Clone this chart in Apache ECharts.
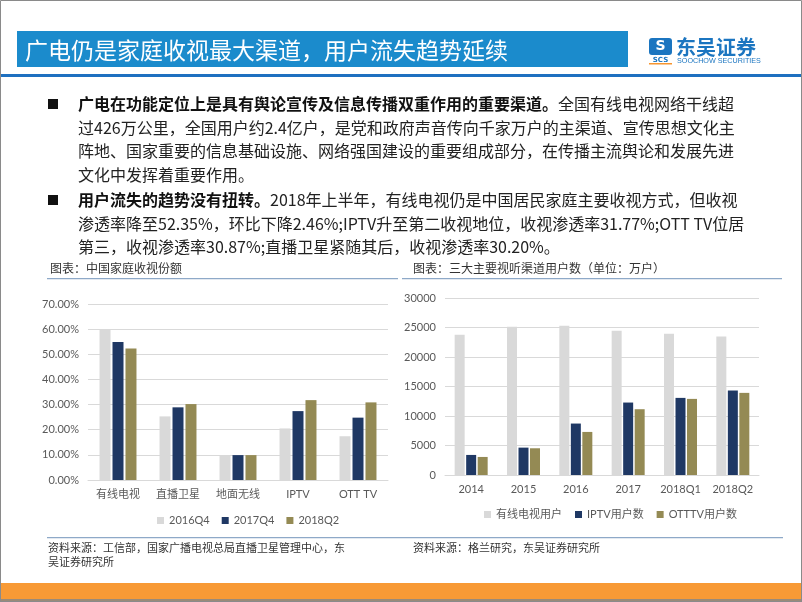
<!DOCTYPE html>
<html><head><meta charset="utf-8">
<script src="https://cdn.jsdelivr.net/npm/echarts@6/dist/echarts.min.js"></script>
<style>html,body{margin:0;padding:0;background:#fff}#c{width:802px;height:602px}</style>
</head><body><div id="c"></div>
<script>
// ---- data: left chart (China household viewing share, %) ----
const shareCategories = ['有线电视', '直播卫星', '地面无线', 'IPTV', 'OTT TV'];
const shareSeriesNames = ['2016Q4', '2017Q4', '2018Q2'];
const share2016Q4 = [59.8, 25.3, 9.9, 20.5, 17.4];
const share2017Q4 = [54.9, 28.9, 9.9, 27.4, 24.8];
const share2018Q2 = [52.35, 30.2, 9.9, 31.77, 30.87];
const shareMax = 70, shareStep = 10;

// ---- data: right chart (users, 万户) ----
const userCategories = ['2014', '2015', '2016', '2017', '2018Q1', '2018Q2'];
const userSeriesNames = ['有线电视用户', 'IPTV用户数', 'OTTTV用户数'];
const cableUsers = [23770, 25130, 25300, 24450, 23940, 23490];
const iptvUsers = [3400, 4640, 8720, 12280, 13070, 14320];
const ottUsers = [3060, 4530, 7300, 11150, 12900, 13920];
const userMax = 30000, userStep = 5000;

// ---- texts ----
const slideTitle = '广电仍是家庭收视最大渠道，用户流失趋势延续';
const para1 = [
  ['广电在功能定位上是具有舆论宣传及信息传播双重作用的重要渠道。', '全国有线电视网络干线超'],
  ['', '过426万公里，全国用户约2.4亿户，是党和政府声音传向千家万户的主渠道、宣传思想文化主'],
  ['', '阵地、国家重要的信息基础设施、网络强国建设的重要组成部分，在传播主流舆论和发展先进'],
  ['', '文化中发挥着重要作用。']
];
const para2 = [
  ['用户流失的趋势没有扭转。', '2018年上半年，有线电视仍是中国居民家庭主要收视方式，但收视'],
  ['', '渗透率降至52.35%，环比下降2.46%;IPTV升至第二收视地位，收视渗透率31.77%;OTT TV位居'],
  ['', '第三，收视渗透率30.87%;直播卫星紧随其后，收视渗透率30.20%。']
];
const leftChartTitle = '图表：中国家庭收视份额';
const rightChartTitle = '图表：三大主要视听渠道用户数（单位：万户）';
const leftSource = ['资料来源：工信部，国家广播电视总局直播卫星管理中心，东', '吴证券研究所'];
const rightSource = '资料来源：格兰研究，东吴证券研究所';

const C_GRAY = '#d9d9d9', C_NAVY = '#1f3864', C_GOLD = '#948a54';
const CJK = '"Noto Sans CJK SC", sans-serif';
const LAT = 'Lato, "Noto Sans CJK SC", sans-serif';

const chart = echarts.init(document.getElementById('c'), null, {renderer: 'canvas'});

function textLine(x, y, bold, normal, size) {
  return {
    type: 'text', x: x, y: y,
    style: {
      text: (bold ? '{b|' + bold + '}' : '') + '{n|' + normal + '}',
      verticalAlign: 'middle',
      rich: {
        b: {fontFamily: CJK, fontSize: size, fontWeight: 'bold', fill: '#111'},
        n: {fontFamily: CJK, fontSize: size, fill: '#222'}
      }
    }
  };
}

const graphics = [];
// slide border
graphics.push({type: 'rect', shape: {x: 0.5, y: 0.5, width: 801, height: 601}, style: {fill: 'none', stroke: '#8a8a8a', lineWidth: 1}, z: 100});
// title bar
graphics.push({type: 'rect', shape: {x: 17, y: 31, width: 611, height: 36}, style: {fill: '#1b8bcc'}});
graphics.push({type: 'text', x: 25, y: 50, style: {text: slideTitle, fill: '#fff', fontFamily: CJK, fontSize: 23, verticalAlign: 'middle'}});
// blue rule
graphics.push({type: 'rect', shape: {x: 0, y: 74, width: 802, height: 3}, style: {fill: '#1e70c0'}});
// logo
graphics.push({type: 'rect', shape: {x: 649, y: 38, width: 23, height: 17, r: 3}, style: {fill: '#1b75c0'}});
graphics.push({type: 'text', x: 660.5, y: 46.5, style: {text: 'S', fill: '#fff', fontFamily: 'DejaVu Sans', fontWeight: 'bold', fontSize: 14, align: 'center', verticalAlign: 'middle'}});
graphics.push({type: 'text', x: 660.5, y: 60, style: {text: 'SCS', fill: '#1b75c0', fontFamily: 'DejaVu Sans', fontWeight: 'bold', fontSize: 7, align: 'center', verticalAlign: 'middle'}});
graphics.push({type: 'rect', shape: {x: 649, y: 63, width: 23, height: 1.5}, style: {fill: '#f7952e'}});
graphics.push({type: 'text', x: 676, y: 47, style: {text: '东吴证券', fill: '#1b75c0', fontFamily: CJK, fontWeight: 'bold', fontSize: 20, verticalAlign: 'middle'}});
graphics.push({type: 'text', x: 677, y: 61, style: {text: 'SOOCHOW SECURITIES', fill: '#1b75c0', fontFamily: 'Liberation Sans', fontSize: 7.2, verticalAlign: 'middle'}});
// bullets & paragraphs
const lineH = 23.5;
[[para1, 104], [para2, 200]].forEach(function (p) {
  const lines = p[0], y0 = p[1];
  graphics.push({type: 'rect', shape: {x: 48, y: y0 - 5, width: 10, height: 10}, style: {fill: '#111'}});
  lines.forEach(function (ln, i) {
    graphics.push(textLine(78, y0 + i * lineH, ln[0], ln[1], 16));
  });
});
// chart titles and rules
graphics.push({type: 'text', x: 50, y: 268, style: {text: leftChartTitle, fill: '#333', fontFamily: CJK, fontSize: 12, verticalAlign: 'middle'}});
graphics.push({type: 'text', x: 413, y: 268, style: {text: rightChartTitle, fill: '#333', fontFamily: CJK, fontSize: 12, verticalAlign: 'middle'}});
graphics.push({type: 'rect', shape: {x: 47, y: 278, width: 351, height: 1.2}, style: {fill: '#8ea9c8'}});
graphics.push({type: 'rect', shape: {x: 402, y: 278, width: 380, height: 1.2}, style: {fill: '#8ea9c8'}});
graphics.push({type: 'rect', shape: {x: 47, y: 537, width: 736, height: 1.2}, style: {fill: '#8ea9c8'}});
// sources
graphics.push({type: 'text', x: 48, y: 548, style: {text: leftSource[0], fill: '#333', fontFamily: CJK, fontSize: 11, verticalAlign: 'middle'}});
graphics.push({type: 'text', x: 48, y: 562, style: {text: leftSource[1], fill: '#333', fontFamily: CJK, fontSize: 11, verticalAlign: 'middle'}});
graphics.push({type: 'text', x: 413, y: 548, style: {text: rightSource, fill: '#333', fontFamily: CJK, fontSize: 11, verticalAlign: 'middle'}});
// orange footer
graphics.push({type: 'rect', shape: {x: 0, y: 583, width: 802, height: 16}, style: {fill: '#f89a35'}});
graphics.push({type: 'rect', shape: {x: 0, y: 599, width: 802, height: 3}, style: {fill: '#9a8a78'}});

function catAxis(gi, data, fontFamily, fs) {
  return {
    type: 'category', gridIndex: gi, data: data,
    axisLine: {lineStyle: {color: C_GRAY}},
    axisTick: {show: false},
    axisLabel: {color: '#595959', fontFamily: fontFamily, fontSize: fs, margin: 9, interval: 0}
  };
}
function valAxis(gi, max, step, fmt) {
  return {
    type: 'value', gridIndex: gi, min: 0, max: max, interval: step,
    axisLine: {show: false}, axisTick: {show: false},
    splitLine: {lineStyle: {color: C_GRAY}},
    axisLabel: {color: '#595959', fontFamily: LAT, fontSize: 11, margin: 9, formatter: fmt}
  };
}
function bar(name, data, color, gi, bw, gap) {
  return {
    name: name, type: 'bar', xAxisIndex: gi, yAxisIndex: gi, data: data,
    barWidth: bw, barGap: gap, itemStyle: {color: color}
  };
}

const option = {
  animation: false,
  backgroundColor: '#fff',
  graphic: {elements: graphics},
  grid: [
    {left: 88, right: 414, top: 304, bottom: 122, containLabel: false},
    {left: 445, right: 43, top: 298, bottom: 127, containLabel: false}
  ],
  legend: [
    {data: shareSeriesNames, left: 152, top: 510, icon: 'rect', itemWidth: 7, itemHeight: 7, itemGap: 12,
     textStyle: {color: '#595959', fontFamily: LAT, fontSize: 11}},
    {data: userSeriesNames, left: 479, top: 504, icon: 'rect', itemWidth: 7, itemHeight: 7, itemGap: 13,
     textStyle: {color: '#595959', fontFamily: LAT, fontSize: 11}}
  ],
  xAxis: [catAxis(0, shareCategories, LAT, 11), catAxis(1, userCategories, LAT, 11)],
  yAxis: [
    valAxis(0, shareMax, shareStep, function (v) { return v.toFixed(2) + '%'; }),
    valAxis(1, userMax, userStep, function (v) { return String(v); })
  ],
  series: [
    bar(shareSeriesNames[0], share2016Q4, C_GRAY, 0, 11, '18%'),
    bar(shareSeriesNames[1], share2017Q4, C_NAVY, 0, 11, '18%'),
    bar(shareSeriesNames[2], share2018Q2, C_GOLD, 0, 11, '18%'),
    bar(userSeriesNames[0], cableUsers, C_GRAY, 1, 10, '15%'),
    bar(userSeriesNames[1], iptvUsers, C_NAVY, 1, 10, '15%'),
    bar(userSeriesNames[2], ottUsers, C_GOLD, 1, 10, '15%')
  ]
};
chart.setOption(option);
</script>
</body></html>
